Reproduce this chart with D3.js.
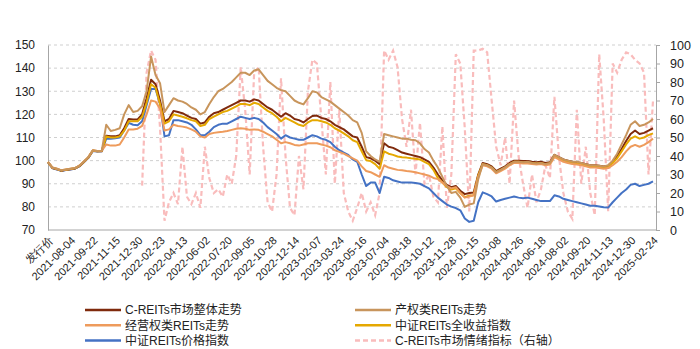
<!DOCTYPE html>
<html><head><meta charset="utf-8">
<script src="https://cdn.jsdelivr.net/npm/d3@7/dist/d3.min.js"></script>
<style>
body{margin:0;background:#fff;}
svg{display:block;font-family:"Liberation Sans","Noto Sans CJK SC",Arial,sans-serif;}
</style></head><body>
<svg id="c" width="700" height="349"></svg>
<script>
const tickLabels = ["发行价","2021-08-04","2021-09-22","2021-11-15","2021-12-30","2022-02-23","2022-04-13","2022-06-02","2022-07-20","2022-09-05","2022-10-28","2022-12-14","2023-02-07","2023-03-24","2023-05-16","2023-07-04","2023-08-18","2023-10-12","2023-11-28","2024-01-15","2024-03-08","2024-04-26","2024-06-18","2024-08-02","2024-09-20","2024-11-13","2024-12-30","2025-02-24"];
const pointsPerLabel = 5;

const seriesNames = ["C-REITs市场整体走势","产权类REITs走势","经营权类REITs走势","中证REITs全收益指数","中证REITs价格指数","C-REITs市场情绪指标（右轴）"];

const overall = [99.3,96.8,96.3,95.6,96,96.3,96.6,97.6,99.4,101.3,104.3,104,104.1,
110.8,110.5,110.5,111,114,118,117.8,117.8,120,127,135,133,126,117,118,121.5,121,120.5,119.5,118.5,118,116,116.5,119,120.5,121,122,123,124,125,126,126,125.5,126.5,126,124.5,123,122,120.5,119,120.5,119.5,118,117.5,116.5,118,119.3,119.5,118.5,118,117,115.5,114.5,113.5,112,110.5,110,106,101.5,101,100,98.5,107.5,106,105.5,104.5,103.5,103,102.5,102,101.5,100.5,99.5,97,94,91.5,89.5,88.5,89,87,85.5,86,86.2,94,99,98.5,97.5,95.5,96.5,97.5,99,100,100,99.8,99.8,99.5,99.3,99.5,99,99.3,102.5,101.5,100.5,100,99.5,99.3,99,98.5,98,98,97.8,97.5,97.8,99.5,102,105,108.5,111.5,113,111.5,112,113,114];

const property = [99.5,97,96.5,95.8,96.2,96.5,96.8,97.8,99.6,101.5,104.5,104.2,104.3,
115.5,112.8,113.3,114,120,124,121,121.5,123.5,130,145,137,133.5,121,124,127,126,125.5,124.5,123,122,120,121,124.5,127.5,130,131,132.5,134,136,138,138,137,139,139.5,137,134.5,133,131.5,130.5,130,128,126,125,124.3,127,130,129.5,127.5,126.5,125.5,124,122.5,121,119.5,117.5,116.5,112,104,102,100.5,99.5,111.5,111,110.5,110,109.5,109.5,109,108.8,107.5,105,103.5,100,97,93,89,86,86.5,84,80,81,81.5,92,98.5,98,97,95,96,97.2,98.5,99.5,99.5,99.3,99.5,99,98.8,99,98.5,99,102.5,101.5,100.5,100,99.5,99.5,99,98.5,98,98,97.8,97.5,98,100,103,107,111,115.5,117,115,115.5,116.5,118];

const operating = [99.5,97,96.5,95.8,96.2,96.5,96.8,97.8,99.6,101.5,104.5,104.2,104.3,
107,106.5,106.5,107,110,113.5,113.5,113.8,115,120,126,125.5,122.5,113,113.5,115.5,115,114.7,114.3,113.5,112.5,110.5,110,111.5,112,112.3,112.5,112.8,113.3,113.8,114,113.8,113.3,113.5,113.3,112.5,111.5,110.5,109,107.5,108,107.5,106.8,106.5,107,107.5,107.5,107.5,107,106.5,105.8,104.5,103.8,103,102,101,100,97.5,95.5,95,94,93,98,97,96.5,96,95.8,95.5,95.3,95,94.5,94,93.5,92.5,92,90.5,89,88,88.5,86,84,84.5,85,93,98,97.5,96.5,94.5,95.5,96.5,98,99,99,98.8,98.8,98.5,98.3,98.5,98,98.3,101.5,100.5,99.5,99,98.5,98.3,98,97.5,97,97,96.8,96.5,96.8,98,99.5,101.5,104,106,106.8,106,106.8,108,109.5];

const totalReturn = [99.4,96.9,96.4,95.7,96.1,96.4,96.7,97.7,99.5,101.4,104.4,104.1,104.2,
110.5,110,110,110.5,113,117,117,117,119,125,133,131.5,124.5,116,117,120,119.5,119,118.3,117.5,117,115,115.5,118,119,120,121,121.5,122.5,123.5,124.5,124.5,124,125,124.5,123,121.5,120.5,119,117,118.5,117.5,116.5,115.5,115,116.5,117.5,117.5,117,116.5,115.5,114,113,111.8,110.5,108.8,108,104,100.2,99.8,98.5,96.5,104,103,102.5,101.8,101.5,101.3,101,100.8,100.5,99.5,98.5,96,92.5,90.5,88.5,87.5,88,86,84.2,84.8,85,93.5,98.5,98,97,95,96,97,98.5,99.5,99.5,99.2,99.3,99,98.8,99,98.5,98.8,102,101,100,99.5,99,98.8,98.5,98,97.5,97.5,97.3,97,97.3,99,101,104,107,109.5,110.5,109.5,110,111,111.8];

const priceIdx = [99.2,96.7,96.2,95.5,95.9,96.2,96.5,97.5,99.3,101.2,104.2,103.9,104,
109.5,109.5,109.7,110,113,116.3,115.5,115.3,117,124,131,131,124.5,110.5,111,117.5,117.5,117,116.5,115.5,113.5,111,111,112.5,114.5,115.5,116,116,117,118,119,118.5,118,118.5,118,116.5,114.5,113,111.5,109.5,111,110,109.5,109,109,110,111,110.5,109.5,109,108,106,104.5,103.5,102.5,100.5,99.5,94,89,90.5,90.5,86,93,92.5,91.5,91,90.5,90.5,90.5,90.3,90,89,88,86,84,82.5,81,80.1,79.5,78.5,75,73.5,74,82,86.3,85.5,84.5,82.3,83,83.5,84,84.5,84,83.7,84,83.5,83,82.5,82.5,82.5,85,84.5,83.5,83,82.5,82,81.5,81,80.5,80.5,80.2,79.8,79.7,82,84,86,87.5,89.5,90,89,89.5,90,91];

const sentiment = [null,null,null,null,null,null,null,null,null,null,null,null,null,null,null,null,null,null,null,null,null,
24,85,97,92,55,5,15,20,14,45,18,14,20,12,45,28,20,22,18,30,25,40,88,65,30,85,88,45,15,10,30,82,40,12,8,40,22,75,92,90,60,30,80,25,65,20,10,5,12,20,10,15,8,20,97,92,97,88,60,45,65,30,58,25,30,18,15,56,12,30,95,90,55,10,97,97,98,96,70,45,35,50,25,70,40,25,12,30,15,22,35,28,72,40,20,10,6,65,25,45,20,8,95,60,10,90,85,92,96,95,92,90,85,30,70];

const leftTicks = [70,80,90,100,110,120,130,140,150];
const rightTicks = [0,10,20,30,40,50,60,70,80,90,100];

const colors = {overall:"#7f2a0c", property:"#c8955c", operating:"#ee9b5c", totalReturn:"#e5a800", priceIdx:"#4472c4", sentiment:"#f9bcbc"};

const svg = d3.select("#c");
const X0 = 48, X1 = 656, Y0 = 45, Y1 = 230;
const N = overall.length;
const x = d3.scaleLinear().domain([0, N-1]).range([X0, 653]);
const yL = d3.scaleLinear().domain([70,150]).range([Y1, Y0]);
const yR = d3.scaleLinear().domain([0,100]).range([Y1, Y0]);

// gridlines
svg.append("g").selectAll("line").data(leftTicks.filter(d=>d>70)).join("line")
  .attr("x1", X0).attr("x2", X1).attr("y1", d=>yL(d)).attr("y2", d=>yL(d))
  .attr("stroke","#cfcfcf").attr("stroke-width",1).attr("stroke-dasharray","3,3");

// left axis
const gl = svg.append("g").attr("transform",`translate(${X0},0)`)
  .call(d3.axisLeft(yL).tickValues(leftTicks).tickSize(0).tickPadding(13));
gl.select(".domain").attr("stroke","#a6a6a6");
gl.selectAll("text").attr("font-size",12).attr("fill","#222");

// right axis
const gr = svg.append("g").attr("transform",`translate(${X1},0)`)
  .call(d3.axisRight(yR).tickValues(rightTicks).tickSize(4).tickPadding(10));
gr.select(".domain").attr("stroke","#a6a6a6");
gr.selectAll("line").attr("stroke","#a6a6a6");
gr.selectAll("text").attr("font-size",12.5).attr("fill","#222");

// bottom axis
const tickIdx = tickLabels.map((d,i)=>i*pointsPerLabel);
const gb = svg.append("g").attr("transform",`translate(0,${Y1})`)
  .call(d3.axisBottom(x).tickValues(tickIdx).tickSize(0).tickFormat((d,i)=>tickLabels[i]));
gb.select(".domain").attr("stroke","#a6a6a6").attr("d",`M${X0},0H${X1}`);
gb.selectAll("text").attr("font-size",11).attr("fill","#222")
  .attr("text-anchor","end").attr("dx",0).attr("dy",0)
  .attr("transform","translate(3,9) rotate(-45)");

// lines
const lineL = d3.line().defined(d=>d!=null).x((d,i)=>x(i)).y(d=>yL(d)).curve(d3.curveLinear);
const lineR = d3.line().defined(d=>d!=null).x((d,i)=>x(i)).y(d=>yR(d));

svg.append("path").datum(sentiment).attr("d", lineR).attr("fill","none")
  .attr("stroke",colors.sentiment).attr("stroke-width",2.2).attr("stroke-dasharray","5,3");

const order = [["priceIdx",priceIdx],["overall",overall],["totalReturn",totalReturn],["operating",operating],["property",property]];
order.forEach(([k,arr])=>{
  svg.append("path").datum(arr).attr("d", lineL).attr("fill","none")
    .attr("stroke",colors[k]).attr("stroke-width",2).attr("stroke-linejoin","round");
});

// legend
const legend = [
  {name:seriesNames[0], c:colors.overall, col:0, row:0},
  {name:seriesNames[1], c:colors.property, col:1, row:0},
  {name:seriesNames[2], c:colors.operating, col:0, row:1},
  {name:seriesNames[3], c:colors.totalReturn, col:1, row:1},
  {name:seriesNames[4], c:colors.priceIdx, col:0, row:2},
  {name:seriesNames[5], c:colors.sentiment, col:1, row:2, dash:true}
];
const lg = svg.append("g");
const colX = [85, 355];
legend.forEach(d=>{
  const yy = 310 + d.row*15.3;
  lg.append("line").attr("x1",colX[d.col]).attr("x2",colX[d.col]+36).attr("y1",yy).attr("y2",yy)
    .attr("stroke",d.c).attr("stroke-width",2.5).attr("stroke-dasharray",d.dash?"5,3":null);
  lg.append("text").attr("x",colX[d.col]+40).attr("y",yy).attr("dy","0.35em")
    .attr("font-size",12).attr("fill","#222").text(d.name);
});
</script>
</body></html>
